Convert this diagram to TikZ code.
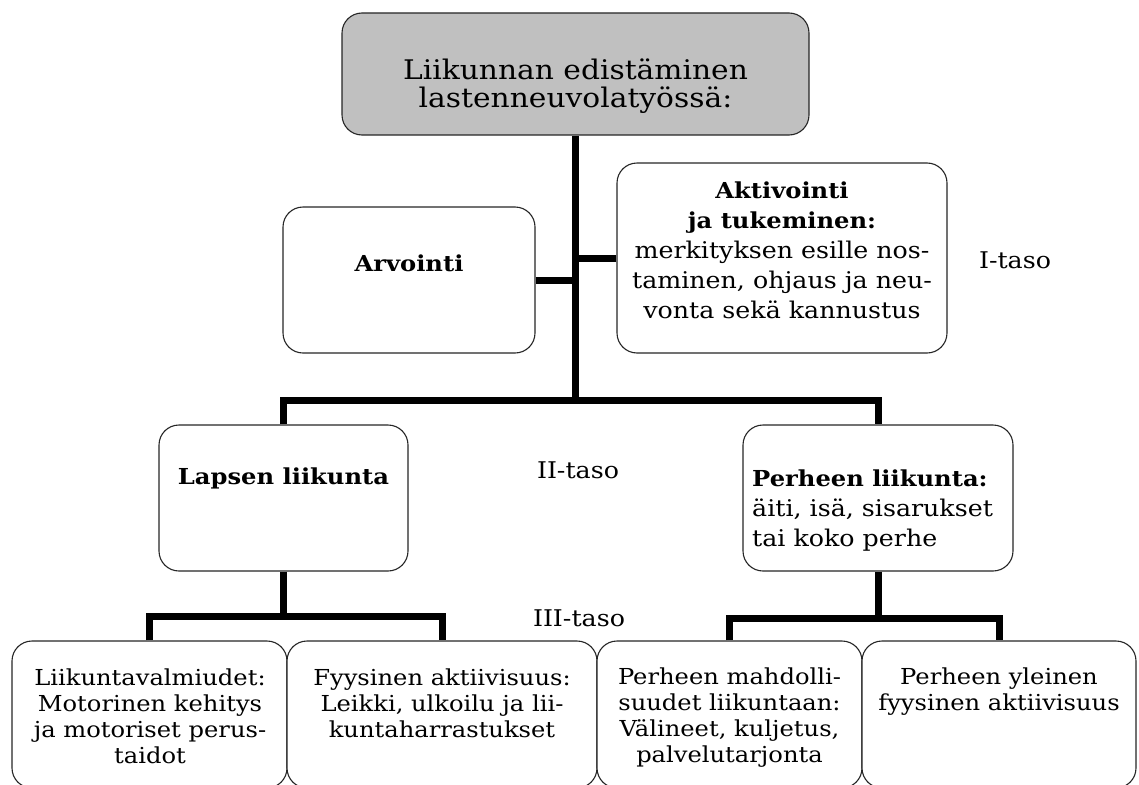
\documentclass[tikz,border=0pt]{standalone}
\usepackage{fontspec}
\setmainfont{DejaVu Serif}[FakeStretch=1.1]
\usetikzlibrary{positioning}
\definecolor{boxgray}{RGB}{192,192,192}
\newcommand{\boldline}[1]{{\fontsize{22}{30}\selectfont\bfseries #1}}

\tikzset{
  box/.style={draw=black!85, line width=1.1pt, rounded corners=20pt, fill=white},
  conn/.style={line width=7pt},
  txt/.style={inner sep=0pt, align=center, font=\fontsize{23}{30}\selectfont},
  boldtxt/.style={inner sep=0pt, align=center, font=\fontsize{22}{30}\selectfont\bfseries},
  smalltxt/.style={inner sep=0pt, align=center, font=\fontsize{22}{26}\selectfont},
}

\begin{document}
\begin{tikzpicture}[x=1pt,y=-1pt]
        \useasboundingbox (0,0) rectangle (1139,784);

        % Laatikot
        \node[box, fill=boxgray, minimum width=467pt, minimum height=122pt] (top) at (575.5,74) {};
        \node[box, minimum width=252pt, minimum height=146pt] (arv) at (409,280) {};
        \node[box, minimum width=330pt, minimum height=190pt] (akt) at (782,258) {};
        \node[box, minimum width=249pt, minimum height=146pt] (lapsen) at (283.5,498) {};
        \node[box, minimum width=270pt, minimum height=146pt] (perheen) at (878,498) {};
        \node[box, minimum width=275pt, minimum height=147pt] (valmiudet) at (149.5,714.5) {};
        \node[box, minimum width=310pt, minimum height=147pt] (aktiivisuus) at (442,714.5) {};
        \node[box, minimum width=265pt, minimum height=147pt] (mahdollisuudet) at (729.5,714.5) {};
        \node[box, minimum width=274pt, minimum height=147pt] (yleinen) at (999,714.5) {};

        % Haarautumiskohdat
        \coordinate (split) at (575.5,400);
        \coordinate (lsplit) at (283.5,616);
        \coordinate (psplit) at (878,618);

        % Yhdysviivat
        \draw[conn] (top.south) -- (split);
        \draw[conn] (arv.east) -- (arv.east -| split);
        \draw[conn] (akt.west) -- (akt.west -| split);
        \draw[conn] (lapsen.north) |- (split) -| (perheen.north);
        \draw[conn] (lapsen.south) -- (lsplit);
        \draw[conn] (valmiudet.north) |- (lsplit) -| (aktiivisuus.north);
        \draw[conn] (perheen.south) -- (psplit);
        \draw[conn] (mahdollisuudet.north) |- (psplit) -| (yleinen.north);

        % Tekstit
        \node[txt, font=\fontsize{27}{28}\selectfont] (toptext) at (575.5,86) {Liikunnan edistäminen\\lastenneuvolatyössä:};
        \node[boldtxt] (arvtext) at (409,263) {Arvointi};
        \node[txt] (akttext) at (782,250) {\boldline{Aktivointi}\\\boldline{ja tukeminen:}\\merkityksen esille nos-\\taminen, ohjaus ja neu-\\vonta sekä kannustus};
        \node[boldtxt] (lapsentext) at (283.5,478) {Lapsen liikunta};
        \node[txt, align=left, anchor=west] (perheentext) at (752,511) {\boldline{Perheen liikunta:}\\äiti, isä, sisarukset\\tai koko perhe};
        \node[smalltxt] (valmiudettext) at (150,716) {Liikuntavalmiudet:\\Motorinen kehitys\\ja motoriset perus-\\taidot};
        \node[smalltxt] (aktiivisuustext) at (442,703) {Fyysinen aktiivisuus:\\Leikki, ulkoilu ja lii-\\kuntaharrastukset};
        \node[smalltxt] (mahdtext) at (729.5,718) {Perheen mahdolli-\\suudet liikuntaan:\\Välineet, kuljetus,\\palvelutarjonta};
        \node[smalltxt] (yleinentext) at (999,692) {Perheen yleinen\\fyysinen aktiivisuus};

        % Tasot
        \node[txt] (taso1) at (1015,260) {I-taso};
        \node[txt] (taso2) at (578,470) {II-taso};
        \node[txt] (taso3) at (579,618) {III-taso};
\end{tikzpicture}
\end{document}
